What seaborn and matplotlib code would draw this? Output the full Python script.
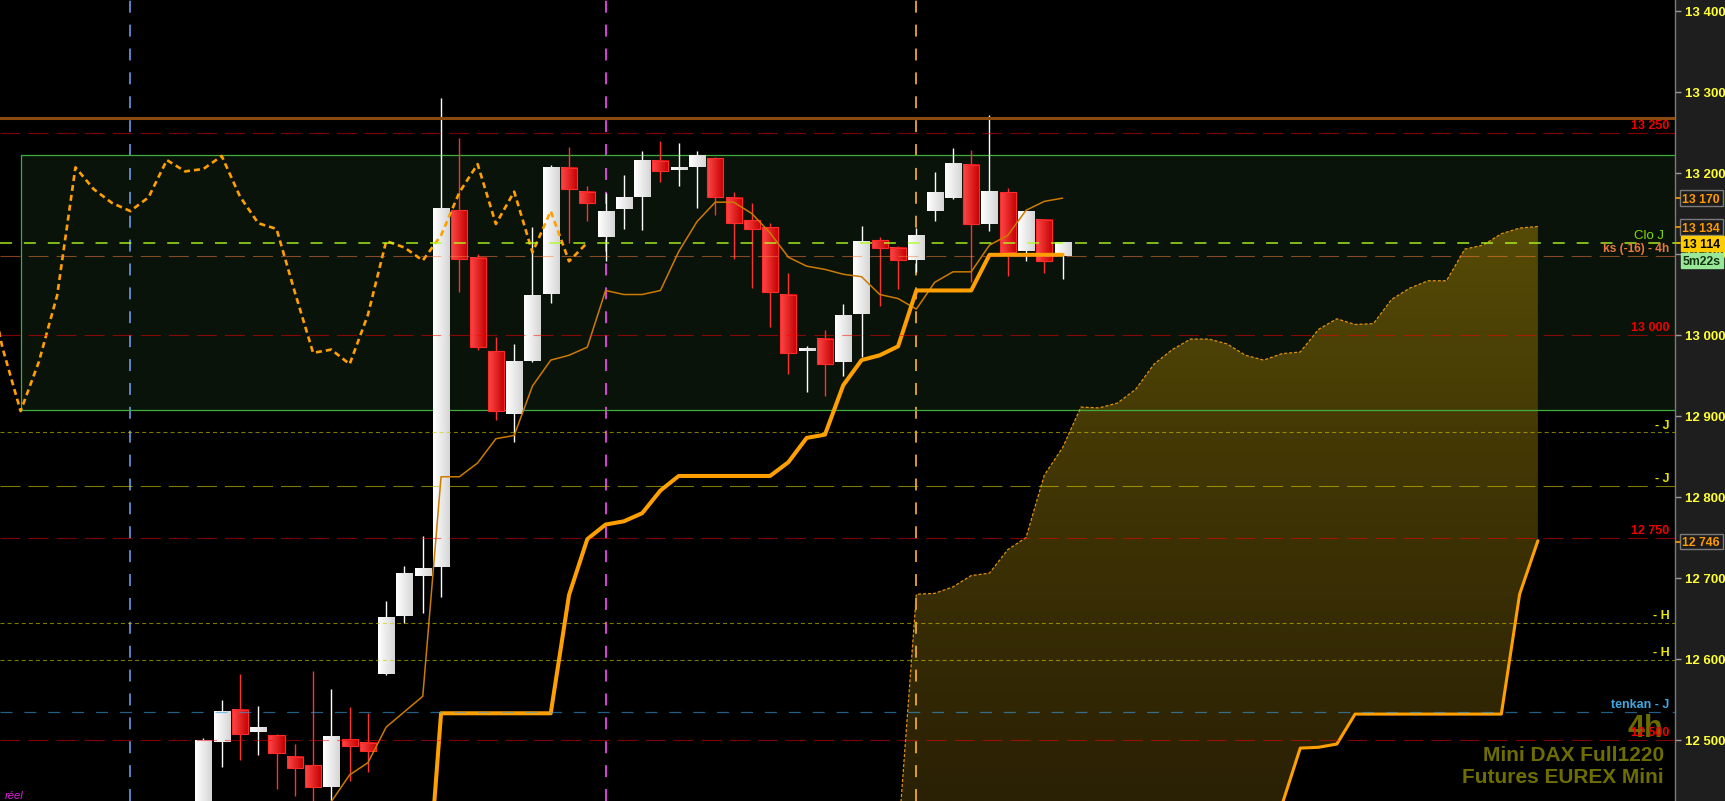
import numpy as np
import pandas as pd
import matplotlib
matplotlib.use("Agg")
import matplotlib.pyplot as plt
import matplotlib.transforms as mtransforms
from matplotlib.patches import Rectangle, Polygon
from matplotlib.colors import LinearSegmentedColormap
import seaborn as sns

# ---------------- data ----------------
opens = [12400, 12498, 12537, 12510, 12506, 12479, 12469, 12442, 12501, 12496,
         12581, 12653, 12703, 12714, 13154, 13095, 12980, 12902, 12968, 13051,
         13206, 13177, 13121, 13156, 13171, 13215, 13204, 13207, 13219, 13169,
         13142, 13133, 13050, 12981, 12995, 12967, 13026, 13117, 13107, 13093,
         13153, 13169, 13210, 13137, 13176, 13104, 13142, 13097]
highs = [12503, 12549, 12582, 12542, 12507, 12495, 12585, 12563, 12541, 12533,
         12672, 12715, 12752, 13293, 13243, 13100, 12998, 12989, 13133, 13210,
         13232, 13184, 13175, 13198, 13227, 13240, 13237, 13227, 13220, 13177,
         13163, 13138, 13077, 12986, 13006, 13038, 13135, 13121, 13110, 13132,
         13201, 13231, 13228, 13272, 13182, 13153, 13143, 13114]
lows = [12390, 12467, 12475, 12482, 12440, 12431, 12415, 12420, 12450, 12461,
        12580, 12644, 12657, 12676, 13053, 12982, 12895, 12868, 12967, 13039,
        13114, 13141, 13091, 13131, 13130, 13189, 13184, 13157, 13148, 13094,
        13058, 13010, 12952, 12930, 12925, 12949, 12973, 13036, 13057, 13078,
        13141, 13168, 13066, 13128, 13073, 13091, 13077, 13069]
closes = [12499, 12536, 12507, 12516, 12484, 12465, 12442, 12504, 12493, 12486,
          12651, 12705, 12712, 13156, 13094, 12985, 12906, 12967, 13049, 13207,
          13180, 13163, 13153, 13170, 13216, 13202, 13205, 13221, 13171, 13138,
          13131, 13053, 12978, 12982, 12964, 13025, 13116, 13108, 13092, 13123,
          13176, 13211, 13137, 13177, 13102, 13153, 13091, 13114]

tenkan_start = 6
tenkan = [12400, 12424, 12457, 12472, 12516, 12535, 12554, 12825, 12825, 12842,
          12872, 12876, 12937, 12969, 12975, 12985, 13055, 13050, 13050, 13055,
          13103, 13140, 13164, 13164, 13150, 13126, 13096, 13085, 13081, 13075,
          13072, 13050, 13045, 13032, 13065, 13078, 13078, 13111, 13123, 13154,
          13165, 13169]

kijun_start = 12
kijun = [12235, 12533, 12533, 12533, 12533, 12533, 12533, 12533, 12679, 12748,
         12766, 12770, 12780, 12808, 12826, 12826, 12826, 12826, 12826, 12826,
         12843, 12873, 12877, 12938, 12969, 12975, 12986, 13055, 13055, 13055,
         13055, 13099, 13099, 13099, 13099, 13099]

chikou_shift = 26

cloud_start = 38
senkou_a = [12375, 12680, 12681, 12689, 12703, 12706, 12735, 12750, 12827, 12861,
            12911, 12910, 12916, 12933, 12964, 12982, 12995, 12995, 12989, 12975,
            12969, 12977, 12979, 13007, 13020, 13013, 13014, 13044, 13058, 13067,
            13067, 13106, 13111, 13125, 13132, 13134]
senkou_b = [12380, 12380, 12380, 12380, 12380, 12380, 12380, 12380, 12380, 12380,
            12380, 12380, 12380, 12380, 12380, 12380, 12380, 12380, 12380, 12380,
            12380, 12420, 12490, 12491, 12495, 12532, 12532, 12532, 12532, 12532,
            12532, 12532, 12532, 12532, 12680, 12746]

axis_ticks = [12500, 12600, 12700, 12800, 12900, 13000, 13100, 13200, 13300, 13400]
red_levels = [13250, 13000, 12750, 12500]
red_labels = ["13 250", "13 000", "12 750", "12 500"]
brown_level = 13268.5
clo_j_level = 13113.6
ks_level = 13097.5
j_fine_level = 12880
j_long_level = 12813.6
h_levels = [12644.4, 12598.8]
tenkan_j_level = 12535
zone_left, zone_bottom, zone_top = -10, 12907, 13222.6
vline_idx = [-4, 22, 39]
vline_colors = ["#6a9ae8", "#ff4dff", "#ffb62e"]
tag_values = [("13 170", 13169), ("13 134", 13133.3), ("12 746", 12745)]

# ---------------- style ----------------
sns.set_theme(style="dark", rc={"axes.facecolor": "black", "figure.facecolor": "#1e1e1e"})
plt.rcParams["font.family"] = ["Liberation Sans", "DejaVu Sans"]
plt.rcParams["lines.scale_dashes"] = False
plt.rcParams["lines.dash_capstyle"] = "butt"

W_PX, H_PX = 1725, 801
XLO, XHI = -11.127, 80.50
YLO, YHI = 12424.7, 13413.6

fig = plt.figure(figsize=(17.25, 8.01), dpi=100, facecolor="#1e1e1e")
ax = fig.add_axes([0, 0, 1675 / W_PX, 1])
ax.set_facecolor("black")
ax.grid(False)


def fy(price):
    return (price - YLO) / (YHI - YLO)


# green zone
ax.add_patch(Rectangle((zone_left, zone_bottom), XHI + 5 - zone_left, zone_top - zone_bottom,
                       fc="#0a130a", ec="none", zorder=0.5))
ax.add_patch(Rectangle((zone_left, zone_bottom), XHI + 5 - zone_left, zone_top - zone_bottom,
                       fc="none", ec="#3fae3f", lw=0.9, zorder=2.2))

# vertical dashed lines
for xv, col in zip(vline_idx, vline_colors):
    ax.axvline(xv, color=col, lw=1.2, linestyle=(0, (8.6, 8.6)), zorder=1.5)

# cloud
xc = np.arange(cloud_start, cloud_start + len(senkou_a))
sa = np.array(senkou_a, float)
sb = np.array(senkou_b, float)
verts = list(zip(xc, sa)) + list(zip(xc[::-1], sb[::-1]))
poly = Polygon(verts, closed=True, fc="none", ec="none", transform=ax.transData)
ax.add_patch(poly)
cloud_cmap = LinearSegmentedColormap.from_list("cloud", ["#2a2004", "#3e3304", "#564b06"])
grad = np.linspace(1, 0, 256).reshape(-1, 1)
im = ax.imshow(grad, cmap=cloud_cmap, extent=[cloud_start, xc[-1], YLO, 13140],
               aspect="auto", zorder=1, interpolation="bilinear", vmin=0, vmax=1)
im.set_clip_path(poly)
ax.plot(xc, sa, color="#e0900f", lw=0.9, linestyle=(0, (2.2, 1.4)), zorder=2.5)
df_b = pd.DataFrame({"idx": xc, "v": sb})
sns.lineplot(data=df_b, x="idx", y="v", ax=ax, color="#ffa000", linewidth=2.2,
             estimator=None, sort=False, zorder=2.6)

# candles
BW = 0.88
hgrad = np.linspace(0, 1, 32).reshape(1, -1)
white_cmap = LinearSegmentedColormap.from_list("w", ["#ffffff", "#d6d6d6"])
red_cmap = LinearSegmentedColormap.from_list("r", ["#ff4848", "#c40000"])
for i, (o, h, l, c) in enumerate(zip(opens, highs, lows, closes)):
    up = c >= o
    ax.vlines(i, l, h, color="white" if up else "#ff3030", lw=1.0, zorder=3)
    lo_b, hi_b = min(o, c), max(o, c)
    if hi_b - lo_b < 2.6:
        mid = (o + c) / 2
        lo_b, hi_b = mid - 1.3, mid + 1.3
    ax.imshow(hgrad, cmap=white_cmap if up else red_cmap,
              extent=[i - BW / 2, i + BW / 2, lo_b, hi_b], aspect="auto",
              zorder=4, interpolation="bilinear", vmin=0, vmax=1)
    if not up:
        ax.add_patch(Rectangle((i - BW / 2, lo_b), BW, hi_b - lo_b, fc="none",
                               ec="#ff2a2a", lw=0.8, zorder=4.1))

# ichimoku lines
df_t = pd.DataFrame({"idx": np.arange(tenkan_start, tenkan_start + len(tenkan)), "v": tenkan})
sns.lineplot(data=df_t, x="idx", y="v", ax=ax, color="#cc7a00", linewidth=1.1,
             estimator=None, sort=False, zorder=5)
df_k = pd.DataFrame({"idx": np.arange(kijun_start, kijun_start + len(kijun)), "v": kijun})
sns.lineplot(data=df_k, x="idx", y="v", ax=ax, color="#ffa000", linewidth=2.9,
             estimator=None, sort=False, zorder=5.1)
df_c = pd.DataFrame({"idx": np.arange(len(closes)) - chikou_shift, "v": closes})
ax.plot(df_c["idx"], df_c["v"], color="#ffa000", lw=1.9, linestyle=(0, (4.3, 2.9)), zorder=5.2)

# horizontal levels
ax.axhline(brown_level, color="#8b4a12", lw=2.2, zorder=6)
for lv in red_levels:
    ax.axhline(lv, color="#ff0000", alpha=0.5, lw=0.8, linestyle=(0, (14.4, 5.8)), zorder=6)
ax.axhline(ks_level, color="#ff8040", alpha=0.5, lw=0.8, linestyle=(0, (14.4, 5.8)), zorder=6)
ax.axhline(clo_j_level, color="#b0ff20", alpha=0.9, lw=1.1, linestyle=(0, (8.6, 8.6)), zorder=6)
ax.axhline(j_fine_level, color="#d4c800", alpha=0.6, lw=0.8, linestyle=(0, (2.9, 2.2)), zorder=6)
ax.axhline(j_long_level, color="#d4c800", alpha=0.6, lw=0.8, linestyle=(0, (14.4, 5.8)), zorder=6)
for lv in h_levels:
    ax.axhline(lv, color="#d4c800", alpha=0.6, lw=0.8, linestyle=(0, (2.9, 2.2)), zorder=6)
ax.axhline(tenkan_j_level, color="#3aa0e0", alpha=0.6, lw=0.9, linestyle=(0, (8.6, 8.6)), zorder=6)

# in-plot labels
blend = mtransforms.blended_transform_factory(ax.transAxes, ax.transData)
lab_tr = mtransforms.offset_copy(blend, fig=fig, y=2.6, units="points")
XR = 1669.5 / 1675

# big watermark texts
ax.text(1663 / 1675, 12504, "4h", transform=blend, ha="right", va="baseline",
        fontsize=22, fontweight="bold", color="#6b6b00", zorder=6.5)
ax.text(1664 / 1675, 12474, "Mini DAX Full1220", transform=blend, ha="right", va="baseline",
        fontsize=15, fontweight="bold", color="#6e6e00", zorder=6.5)
ax.text(1664 / 1675, 12446.5, "Futures EUREX Mini", transform=blend, ha="right", va="baseline",
        fontsize=15, fontweight="bold", color="#6e6e00", zorder=6.5)

for lv, lab in zip(red_levels, red_labels):
    ax.text(XR, lv, lab, transform=lab_tr, ha="right", va="baseline", fontsize=9,
            fontweight="bold", color="#ee0000", zorder=7)
ax.text(1664 / 1675, clo_j_level, "Clo J", transform=lab_tr, ha="right", va="baseline",
        fontsize=9.5, color="#7fdc00", zorder=7)
ax.text(XR, ks_level, "ks (-16) - 4h", transform=lab_tr, ha="right", va="baseline",
        fontsize=8.6, fontweight="bold", color="#e87840", zorder=7)
for lv, lab in [(j_fine_level, "- J"), (j_long_level, "- J"), (h_levels[0], "- H"), (h_levels[1], "- H")]:
    ax.text(XR, lv, lab, transform=lab_tr, ha="right", va="baseline", fontsize=9,
            fontweight="bold", color="#e6e600", zorder=7)
ax.text(XR, tenkan_j_level, "tenkan - J", transform=lab_tr, ha="right", va="baseline",
        fontsize=9, fontweight="bold", color="#40a8e0", zorder=7)

fig.text(5 / W_PX, 10 / H_PX, "réel", ha="left", va="top", fontsize=8, style="italic",
         color="#e020e0")

# axes settings
ax.set_xlim(XLO, XHI)
ax.set_ylim(YLO, YHI)
ax.set_xlabel("")
ax.set_ylabel("")
ax.set_xticks([])
ax.yaxis.tick_right()
ax.set_yticks(axis_ticks, labels=[f"{v // 1000} {v % 1000:03d}" for v in axis_ticks],
              fontweight="bold")
ax.tick_params(axis="y", which="both", right=True, left=False, length=4, width=1,
               color="#9a9a9a", labelcolor="#ffff33", labelsize=9.5, pad=3)
for s in ["top", "left", "bottom"]:
    ax.spines[s].set_visible(False)
ax.spines["right"].set_visible(True)
ax.spines["right"].set_color("#7a7a7a")
ax.spines["right"].set_linewidth(1)

# right-axis tags


def tag(center_px_from_top, text, fc, ec, tc, x0=1680, x1=1723, h=15.4, tick=None):
    yb = 1 - (center_px_from_top + h / 2) / H_PX
    fig.add_artist(Rectangle((x0 / W_PX, yb), (x1 - x0) / W_PX, h / H_PX,
                             transform=fig.transFigure, fc=fc, ec=ec, lw=1, zorder=10))
    fig.text((x0 + 2.5) / W_PX, 1 - center_px_from_top / H_PX, text, ha="left",
             va="center_baseline", fontsize=8.8, fontweight="bold", color=tc, zorder=11)
    if tick:
        fig.add_artist(plt.Line2D([1675.5 / W_PX, 1679.5 / W_PX],
                                  [1 - center_px_from_top / H_PX] * 2,
                                  transform=fig.transFigure, color=tick, lw=1.2, zorder=11))


def px_of(price):
    return (1 - fy(price)) * H_PX


for txt, val in tag_values:
    tag(px_of(val), txt, "#1c1c1c", "#7a7a7a", "#ff9a00", tick="#ff9a00")
c_px = px_of(closes[-1])
tag(c_px + 0.8, "13 114", "#ffcc00", "#ffcc00", "black", x0=1680.5, x1=1727, tick="#ffcc00")
tag(c_px + 18, "5m22s", "#98e898", "#98e898", "#143214", x0=1680.5, x1=1723)

fig.savefig("out.png", dpi=100, facecolor=fig.get_facecolor())
